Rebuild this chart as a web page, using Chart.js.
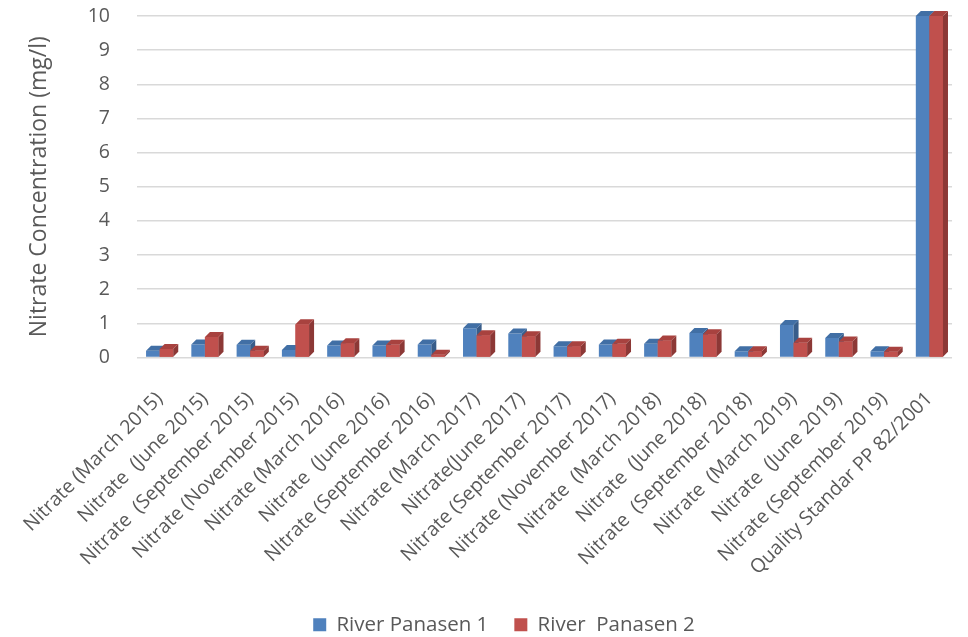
<!DOCTYPE html>
<html>
<head>
<meta charset="utf-8">
<script src="https://cdn.jsdelivr.net/npm/chart.js@4/dist/chart.umd.min.js"></script>
<style>
  html, body { margin: 0; padding: 0; background: #fff; }
  #wrap { width: 968px; height: 637px; }
</style>
</head>
<body>
<div id="wrap"><canvas id="nitrateChart" width="968" height="637"></canvas></div>
<script>
const categories = [
  'Nitrate (March 2015)', 'Nitrate  (June 2015)', 'Nitrate  (September 2015)',
  'Nitrate (November 2015)', 'Nitrate (March 2016)', 'Nitrate  (June 2016)',
  'NItrate (September 2016)', 'Nitrate (March 2017)', 'Nitrate(June 2017)',
  'Nitrate (September 2017)', 'Nitrate (November 2017)', 'Nitrate  (March 2018)',
  'Nitrate  (June 2018)', 'Nitrate  (September 2018)', 'Nitrate  (March 2019)',
  'Nitrate  (June 2019)', 'Nitrate (September 2019)', 'Quality Standar PP 82/2001'
];
const panasen1 = [0.2, 0.38, 0.37, 0.22, 0.35, 0.35, 0.38, 0.86, 0.7, 0.33, 0.38, 0.4, 0.72, 0.18, 0.95, 0.57, 0.18, 10];
const panasen2 = [0.25, 0.6, 0.2, 0.97, 0.42, 0.37, 0.08, 0.65, 0.62, 0.33, 0.4, 0.5, 0.68, 0.18, 0.43, 0.47, 0.17, 10];
const yTicks = [0, 1, 2, 3, 4, 5, 6, 7, 8, 9, 10];

const textColor = '#595959';
const gridColor = '#d9d9d9';
const FONT = "'Open Sans', sans-serif";

// office style 3d columns: side + top faces drawn from the bar elements
function drawFaces(ctx, bar, ds) {
  const d = 5;
  const { x, y, base, width } = bar.getProps(['x', 'y', 'base', 'width'], true);
  const xl = x - width / 2, xr = x + width / 2;
  ctx.fillStyle = ds.sideColor;
  ctx.beginPath();
  ctx.moveTo(xr, y);
  ctx.lineTo(xr + d, y - d);
  ctx.lineTo(xr + d, base - d);
  ctx.lineTo(xr, base);
  ctx.closePath();
  ctx.fill();
  ctx.fillStyle = ds.topColor;
  ctx.beginPath();
  ctx.moveTo(xl, y);
  ctx.lineTo(xl + d, y - d);
  ctx.lineTo(xr + d, y - d);
  ctx.lineTo(xr, y);
  ctx.closePath();
  ctx.fill();
}

const bar3d = {
  id: 'bar3d',
  afterLayout(chart) {
    // legend in the original sits right of centre and lower down
    const lg = chart.legend;
    lg.left += 21; lg.right += 21;
    lg.top += 16; lg.bottom += 16;
  },
  afterDatasetsDraw(chart) {
    const ctx = chart.ctx;
    ctx.save();
    const m0 = chart.getDatasetMeta(0), m1 = chart.getDatasetMeta(1);
    m0.data.forEach(b => drawFaces(ctx, b, chart.data.datasets[0]));
    // red sits in front of blue's side face
    m1.data.forEach(b => { b.draw(ctx); drawFaces(ctx, b, chart.data.datasets[1]); });
    ctx.restore();
  }
};

new Chart(document.getElementById('nitrateChart'), {
  type: 'bar',
  data: {
    labels: categories,
    datasets: [
      {
        label: 'River Panasen 1',
        data: panasen1,
        backgroundColor: '#4f81bd',
        sideColor: '#385d8a',
        topColor: '#416fa5'
      },
      {
        label: 'River  Panasen 2',
        data: panasen2,
        backgroundColor: '#c0504d',
        sideColor: '#8c3836',
        topColor: '#a8423f'
      }
    ]
  },
  options: {
    responsive: false,
    animation: false,
    layout: { padding: { top: 0, right: 2, left: 0, bottom: 8 } },
    datasets: {
      bar: { categoryPercentage: 0.6, barPercentage: 1.0 }
    },
    plugins: {
      legend: {
        position: 'bottom',
        labels: {
          color: textColor,
          font: { family: FONT, size: 20.5 },
          boxWidth: 13,
          boxHeight: 13,
          padding: 26
        }
      },
      tooltip: { enabled: false }
    },
    scales: {
      x: {
        grid: { display: false },
        border: { display: false },
        ticks: {
          color: textColor,
          font: { family: FONT, size: 19.5 },
          maxRotation: 45,
          minRotation: 45,
          autoSkip: false,
          padding: 22
        },
        afterFit: axis => { axis.height = 215; }
      },
      y: {
        min: 0,
        max: 10,
        afterBuildTicks: axis => { axis.ticks = yTicks.map(v => ({ value: v })); },
        afterFit: axis => {
          axis.width = 137;
          axis.paddingTop = 16;
          axis.paddingBottom = 0;
        },
        title: {
          display: true,
          text: 'Nitrate Concentration (mg/l)',
          color: textColor,
          font: { family: FONT, size: 23 },
          padding: { top: 26, bottom: 0 }
        },
        ticks: {
          color: textColor,
          font: { family: FONT, size: 19.5 },
          padding: 27
        },
        grid: { color: gridColor, lineWidth: 1.5, drawTicks: false },
        border: { display: false }
      }
    }
  },
  plugins: [bar3d]
});
</script>
</body>
</html>
